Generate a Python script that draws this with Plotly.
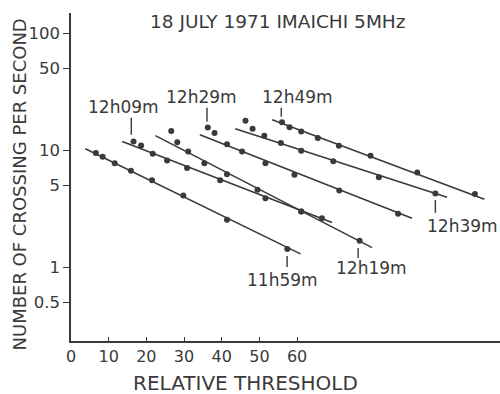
import math
import plotly.graph_objects as go

# ---------------- data ----------------
series_names = ["11h59m", "12h09m", "12h19m", "12h29m", "12h39m", "12h49m"]

thr_1159 = [6.6, 8.4, 11.6, 15.9, 21.5, 29.8, 41.4, 57.4]
cnt_1159 = [9.43, 8.77, 7.74, 6.65, 5.52, 4.09, 2.54, 1.43]

thr_1209 = [16.6, 18.6, 21.7, 25.5, 30.8, 39.6, 51.6, 61.1, 66.6]
cnt_1209 = [11.85, 10.95, 9.29, 8.15, 7.02, 5.52, 3.89, 2.99, 2.62]

thr_1219 = [26.6, 28.2, 31.1, 35.4, 41.4, 49.5, 61.1, 76.6]
cnt_1219 = [14.6, 11.7, 9.73, 7.74, 6.21, 4.58, 2.99, 1.68]

thr_1229 = [36.3, 38.1, 41.4, 45.4, 51.6, 59.3, 71.2, 86.8]
cnt_1229 = [15.6, 13.97, 11.25, 9.73, 7.71, 6.15, 4.52, 2.86]

thr_1239 = [46.3, 48.2, 51.3, 55.7, 61.1, 69.6, 81.7, 96.7]
cnt_1239 = [17.8, 15.2, 13.25, 11.5, 9.86, 8.02, 5.86, 4.26]

thr_1249 = [56.0, 58.0, 61.1, 65.5, 71.1, 79.5, 91.9, 107.2]
cnt_1249 = [17.3, 15.7, 14.4, 12.7, 10.9, 8.94, 6.44, 4.21]

# fitted straight lines (start / end)
fit_thr = [[3.8, 60.9], [13.6, 69.3], [22.4, 79.9], [34.2, 90.5], [43.6, 99.8], [53.4, 109.7]]
fit_cnt = [[10.26, 1.30], [11.85, 2.41], [13.3, 1.47], [13.5, 2.62], [15.2, 3.96], [18.2, 3.80]]

# time labels: tick x, tick y (two ends), text x, text y
label_tick_x = [57.35, 16.0, 76.2, 36.1, 96.7, 55.8]
label_tick_y = [[1.249, 1.006], [18.9, 13.5], [1.462, 1.20], [23.0, 17.5], [3.76, 2.91], [23.0, 19.3]]
label_text_x = [56.2, 13.9, 79.7, 34.6, 103.9, 60.1]
label_text_y = [0.779, 23.4, 0.977, 28.5, 2.23, 28.5]

x_ticks = [0, 10, 20, 30, 40, 50, 60]
y_ticks = [0.5, 1, 5, 10, 50, 100]
y_tick_text = ["0.5", "1", "5", "10", "50", "100"]

title_text = "18 JULY 1971 IMAICHI 5MHz"
x_title = "RELATIVE THRESHOLD"
y_title = "NUMBER OF CROSSING PER SECOND"

# ---------------- figure ----------------
INK = "#3a3a3a"
FONT = "DejaVu Sans"

thr_all = [thr_1159, thr_1209, thr_1219, thr_1229, thr_1239, thr_1249]
cnt_all = [cnt_1159, cnt_1209, cnt_1219, cnt_1229, cnt_1239, cnt_1249]

fig = go.Figure()
for i, name in enumerate(series_names):
    fig.add_trace(go.Scatter(x=fit_thr[i], y=fit_cnt[i], mode="lines",
                             line=dict(color=INK, width=1.6), showlegend=False,
                             hoverinfo="skip"))
    fig.add_trace(go.Scatter(x=thr_all[i], y=cnt_all[i], mode="markers", name=name,
                             marker=dict(color=INK, size=6), showlegend=False))
    fig.add_trace(go.Scatter(x=[label_tick_x[i], label_tick_x[i]], y=label_tick_y[i],
                             mode="lines", line=dict(color=INK, width=1.4),
                             showlegend=False, hoverinfo="skip"))

annotations = []
for i, name in enumerate(series_names):
    annotations.append(dict(x=label_text_x[i], y=math.log10(label_text_y[i]),
                            xref="x", yref="y", text=name, showarrow=False,
                            xanchor="center", yanchor="middle",
                            font=dict(family=FONT, size=17, color=INK)))

# plot area in pixels: left 71, right 500, top 13, bottom 341
L, R, T, B = 71, 0, 13, 53
W, H = 500, 394
pw, ph = W - L - R, H - T - B

def px_to_paper(px, py):
    return (px - L) / pw, (H - B - py) / ph

tx, ty = px_to_paper(277, 21)
annotations.append(dict(x=tx, y=ty, xref="paper", yref="paper", text=title_text,
                        showarrow=False, xanchor="center", yanchor="middle",
                        font=dict(family=FONT, size=18.5, color=INK)))
ax_, ay_ = px_to_paper(245, 383)
annotations.append(dict(x=ax_, y=ay_, xref="paper", yref="paper", text=x_title,
                        showarrow=False, xanchor="center", yanchor="middle",
                        height=21, valign="middle",
                        font=dict(family=FONT, size=20, color=INK)))
bx_, by_ = px_to_paper(18.5, 185)
annotations.append(dict(x=bx_, y=by_, xref="paper", yref="paper", text=y_title,
                        showarrow=False, xanchor="center", yanchor="middle",
                        textangle=-90,
                        font=dict(family=FONT, size=18, color=INK)))

fig.update_layout(
    width=W, height=H,
    margin=dict(l=L, r=R, t=T, b=B, pad=0),
    paper_bgcolor="white", plot_bgcolor="white",
    annotations=annotations,
    showlegend=False,
    xaxis=dict(range=[0, pw / 3.768], tickvals=x_ticks, ticks="inside", ticklen=4,
               tickwidth=1.4, tickcolor=INK, showline=True, linecolor=INK, linewidth=1.6,
               showgrid=False, zeroline=False,
               tickfont=dict(family=FONT, size=16, color=INK)),
    yaxis=dict(type="log", range=[-0.630, 2.171], tickvals=y_ticks, ticktext=y_tick_text,
               ticks="outside", ticklen=6, tickwidth=1.4, tickcolor=INK,
               showline=True, linecolor=INK, linewidth=1.6, showgrid=False,
               zeroline=False, tickfont=dict(family=FONT, size=16.5, color=INK)),
)

fig.write_html("out.html")
